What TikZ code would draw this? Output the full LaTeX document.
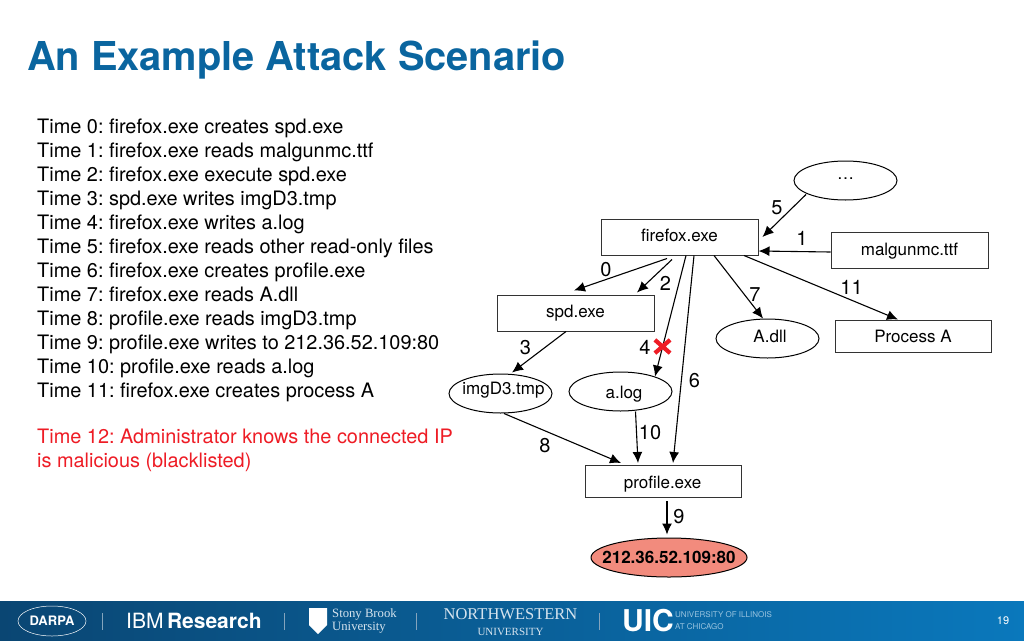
\documentclass[tikz,border=0pt]{standalone}
\usepackage{fontspec}
\setmainfont{TeX Gyre Heros}
\newfontfamily\logoserif{Liberation Serif}
\usetikzlibrary{shapes.geometric,shapes.misc,arrows.meta,calc}
\definecolor{titleblue}{HTML}{0A659F}
\definecolor{barL}{HTML}{0A4673}
\definecolor{barR}{HTML}{0A78BC}
\definecolor{mal}{HTML}{F28B7D}
\definecolor{redtxt}{HTML}{EE1C25}
\definecolor{logo}{HTML}{D5E3EE}
\newcommand{\ctext}[2][0pt]{\raisebox{#1}[0pt][0pt]{\makebox[0pt]{#2}}}
\tikzset{
 box/.style={draw=black!80,line width=1pt,rectangle,inner sep=0pt,font=\fontsize{17}{18}\selectfont},
 oval/.style={draw=black,line width=1pt,ellipse,inner sep=0pt,font=\fontsize{17}{18}\selectfont},
 edge/.style={draw=black,line width=1.1pt,-{Latex[length=11pt,width=10pt]}},
 num/.style={font=\fontsize{20}{22}\selectfont,inner sep=0pt},
 info/.style={anchor=north west,inner sep=0pt,align=left,font=\fontsize{19.9}{24}\selectfont},
}
\begin{document}
\frenchspacing
\begin{tikzpicture}[x=1pt,y=-1pt]
\useasboundingbox (0,0) rectangle (1024,640);
\fill[white] (0,0) rectangle (1024,640);
% footer
\node[anchor=north west,minimum width=1024pt,minimum height=39pt,inner sep=0pt,left color=barL,right color=barR,draw=none] (bar) at (0,601) {};
\node[inner sep=0pt,font=\fontsize{13}{14}\selectfont\bfseries,text=white,draw=white,ellipse,minimum width=68pt,minimum height=30pt,line width=.5pt] (darpa) at (52,621) {DARPA};
\node[inner sep=0pt,font=\fontsize{21}{24}\selectfont,text=white,anchor=west] (ibm) at (126,621) {IBM\,\textbf{Research}};
\node[inner sep=0pt,font=\fontsize{12.7}{13}\selectfont\logoserif,text=logo,anchor=west,align=left] (sb) at (332,620.5) {Stony Brook\\University};
\fill[white] (309,608) -- (327,608) -- (327,625) -- (318,634) -- (309,625) -- cycle;
\node[inner sep=0pt,font=\fontsize{16.5}{16}\selectfont\logoserif,text=logo,align=center] (nw) at (510.5,622) {NORTHWESTERN\\{\fontsize{11}{11}\selectfont UNIVERSITY}};
\node[inner sep=0pt,font=\fontsize{30}{30}\selectfont\bfseries,text=white,anchor=west] (uic) at (622,621) {UIC};
\node[inner sep=0pt,font=\fontsize{8}{12}\selectfont,text=logo!70!barR,anchor=west,align=left] (uicn) at (675,621) {UNIVERSITY OF ILLINOIS\\AT CHICAGO};
\node[inner sep=0pt,font=\fontsize{11}{12}\selectfont,text=white] (pg) at (1003,621) {19};
\foreach \sx in {102,284,416,599}{\draw[logo!60!barL,line width=.5pt] (\sx,613) -- (\sx,630);}
% title
\node[anchor=west,inner sep=0pt,text=titleblue,font=\fontsize{39.8}{44}\selectfont\bfseries] (title) at (27,60) {An Example Attack Scenario};
% text
\node[info] (events) at (37,118.5) {Time 0: firefox.exe creates spd.exe\\
Time 1: firefox.exe reads malgunmc.ttf\\
Time 2: firefox.exe execute spd.exe\\
Time 3: spd.exe writes imgD3.tmp\\
Time 4: firefox.exe writes a.log\\
Time 5: firefox.exe reads other read-only files\\
Time 6: firefox.exe creates profile.exe\\
Time 7: firefox.exe reads A.dll\\
Time 8: profile.exe reads imgD3.tmp\\
Time 9: profile.exe writes to 212.36.52.109:80\\
Time 10: profile.exe reads a.log\\
Time 11: firefox.exe creates process A};
\node[info,text=redtxt] (alert) at (37,429) {Time 12: Administrator knows the connected IP\\is malicious (blacklisted)};
% nodes
\node[box,minimum width=157pt,minimum height=36pt] (ff) at (679.5,237) {\ctext[-4pt]{firefox.exe}};
\node[box,minimum width=157pt,minimum height=36pt] (mal) at (909.5,250) {\ctext[-5pt]{malgunmc.ttf}};
\node[box,minimum width=157pt,minimum height=36pt] (spd) at (575.5,313) {\ctext[-4pt]{spd.exe}};
\node[box,minimum width=156pt,minimum height=32pt] (proc) at (913,336) {\ctext[-6pt]{Process A}};
\node[box,minimum width=156pt,minimum height=32pt] (prof) at (663,481.5) {\hspace{-1pt}\ctext[-6.5pt]{profile.exe}};
\node[oval,minimum width=103pt,minimum height=39pt] (dots) at (845.5,180.5) {\ctext[1.5pt]{…}};
\node[oval,minimum width=103pt,minimum height=39pt] (adll) at (767.5,338.5) {\hspace{5pt}\ctext[-3.5pt]{A.dll}};
\node[oval,minimum width=103pt,minimum height=39pt] (img) at (500.5,393.5) {\hspace{6pt}\ctext[-.5pt]{imgD3.tmp}};
\node[oval,minimum width=103pt,minimum height=39pt] (alog) at (620.5,391.5) {\hspace{7pt}\ctext[-6.5pt]{a.log}};
\node[oval,fill=mal,minimum width=156pt,minimum height=39pt,font=\fontsize{17}{18}\selectfont\bfseries] (ip) at (669,557.5) {\ctext[-5.5pt]{212.36.52.109:80}};
% edges
\draw[edge] ([shift={(-12.5,3)}]ff.south) -- ([shift={(-1.5,-4)}]spd.north);
\draw[edge] ([shift={(-7.5,4)}]ff.south) -- ([shift={(61.5,-2)}]spd.north);
\draw[edge] ([shift={(6.5,0)}]ff.south) -- ([shift={(34.5,5)}]alog.north);
\draw[edge] ([shift={(14.5,0)}]ff.south) -- ([shift={(10,-2)}]prof.north);
\draw[edge] ([shift={(34.5,0)}]ff.south) -- ([shift={(-4.5,0)}]adll.north);
\draw[edge] ([shift={(64.5,0)}]ff.south) -- ([shift={(-15,0)}]proc.north);
\draw[edge] ([shift={(0,2)}]mal.west) -- ([shift={(0,14)}]ff.east);
\draw[edge] ([shift={(-39.5,-6)}]dots.south) -- ([shift={(4,0)}]ff.east);
\draw[edge] ([shift={(-9.5,0)}]spd.south) -- ([shift={(11.5,-1)}]img.north);
\draw[edge] ([shift={(3.5,0)}]img.south) -- ([shift={(-42,-2)}]prof.north);
\draw[edge] ([shift={(15,0)}]alog.south) -- ([shift={(-25,-2)}]prof.north);
\draw[edge] ([shift={(4,3)}]prof.south) -- ([shift={(-2,-3)}]ip.north);
% labels
\node[num] (n0) at (606,270) {0};
\node[num] (n1) at (802,238) {1};
\node[num] (n2) at (665.5,283) {2};
\node[num] (n3) at (525.5,348) {3};
\node[num] (n4) at (645,347) {4};
\node[num] (n5) at (777,208) {5};
\node[num] (n6) at (694.5,381) {6};
\node[num] (n7) at (755,295) {7};
\node[num] (n8) at (545,446) {8};
\node[num] (n9) at (679,517) {9};
\node[num] (n10) at (650,433) {10};
\node[num] (n11) at (851.5,287) {11};
\node[cross out,draw=redtxt,line width=4.2pt,minimum width=11pt,minimum height=9pt,inner sep=0pt] (xm) at (662.5,346.5) {};
\end{tikzpicture}
\end{document}
